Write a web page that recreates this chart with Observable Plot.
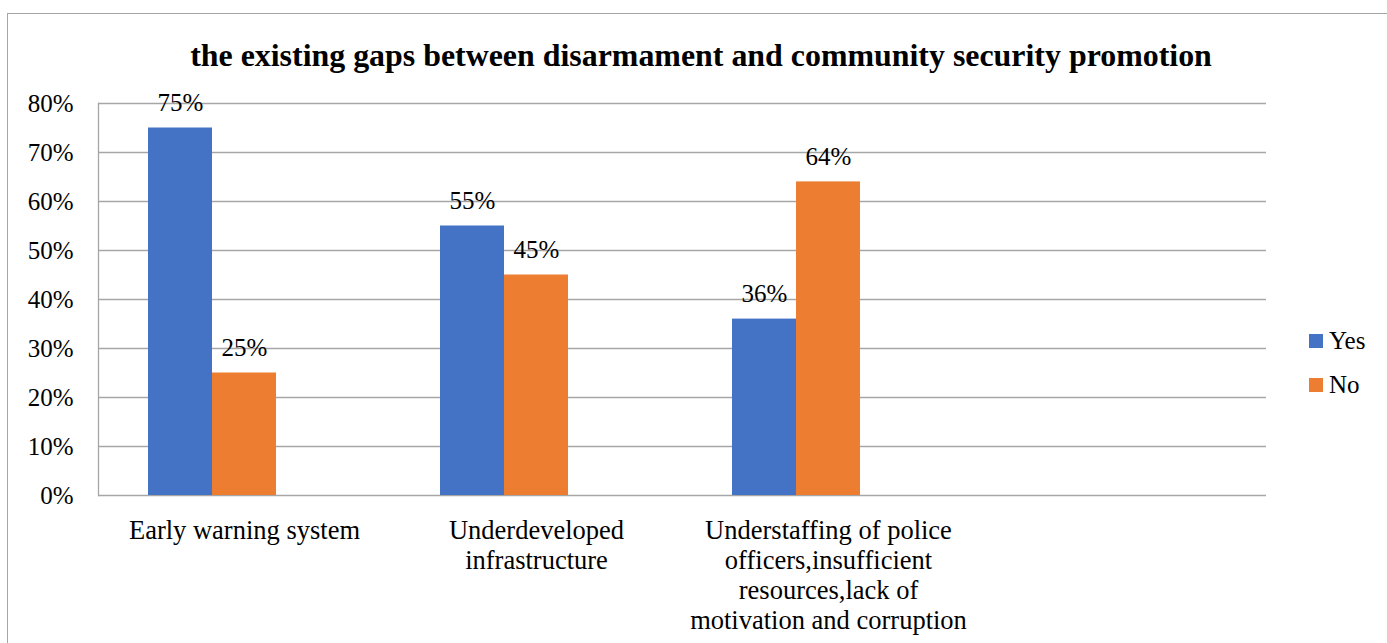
<!DOCTYPE html>
<html>
<head>
<meta charset="utf-8">
<script src="https://cdn.jsdelivr.net/npm/d3@7"></script>
<script src="https://cdn.jsdelivr.net/npm/@observablehq/plot@0.6"></script>
<style>
  html, body { margin: 0; padding: 0; background: #fff; }
  body { font-family: "Liberation Serif", "Times New Roman", serif; }
  #wrap { position: relative; width: 1387px; height: 643px; overflow: hidden; background: #fff; }
  #border { position: absolute; left: 7px; top: 13px; width: 1500px; height: 800px;
            border-left: 1.5px solid #a6a6a6; border-top: 1.5px solid #a6a6a6; box-sizing: border-box; }
  #chart { position: absolute; left: 0; top: 0; }
  #chart svg, #chart svg text { font-family: "Liberation Serif", "Times New Roman", serif !important; font-variant: normal !important; }
  #title { position: absolute; left: 0; width: 1402px; top: 36px; text-align: center;
           font-weight: bold; font-size: 29px; line-height: 40px; color: #000; white-space: nowrap; }
  #legend { position: absolute; left: 1309px; top: 319px; font-size: 25px; color: #000; }
  .item { display: flex; align-items: center; height: 44px; }
  .sw { width: 14px; height: 14px; margin-right: 6px; }
</style>
</head>
<body>
<div id="wrap">
  <div id="border"></div>
  <div id="chart"></div>
  <div id="title"></div>
  <div id="legend"></div>
</div>
<script>
// ---- data ----
const titleText = "the existing gaps between disarmament and community security promotion";
const categories = ["Early warning system", "Underdeveloped infrastructure",
  "Understaffing of police officers,insufficient resources,lack of motivation and corruption", ""];
const categoryLabels = ["Early warning system", "Underdeveloped\ninfrastructure",
  "Understaffing of police\nofficers,insufficient\nresources,lack of\nmotivation and corruption", ""];
const seriesNames = ["Yes", "No"];
const seriesSlots = ["Yes", "No", ""];   // third (empty) series slot as in the original chart
const seriesColors = ["#4472C4", "#ED7D31"];
const yesValues = [0.75, 0.55, 0.36];
const noValues = [0.25, 0.45, 0.64];
const yTicks = [0, 0.1, 0.2, 0.3, 0.4, 0.5, 0.6, 0.7, 0.8];

// ---- build tables ----
const rows = [];
yesValues.forEach((v, i) => rows.push({category: categories[i], series: "Yes", value: v}));
noValues.forEach((v, i) => rows.push({category: categories[i], series: "No", value: v}));
const gridRows = [];
categories.forEach(c => yTicks.forEach(t => gridRows.push({category: c, tick: t})));
const labelOf = new Map(categories.map((c, i) => [c, categoryLabels[i]]));

// title: fit measured width
const titleEl = document.getElementById("title");
titleEl.textContent = titleText;
(function fitTitle() {
  const c = document.createElement("canvas").getContext("2d");
  c.font = 'bold 100px "Liberation Serif"';
  const w = c.measureText(titleText).width;
  titleEl.style.fontSize = (100 * 1022 / w).toFixed(2) + "px";
})();

const pct = d3.format(".0%");
const fs = 25;

const chart = Plot.plot({
  width: 1387,
  height: 643,
  marginLeft: 96,
  marginRight: 120,
  marginTop: 103,
  marginBottom: 148,
  style: {fontFamily: "Liberation Serif, serif", color: "#000", background: "transparent"},
  fx: {domain: categories, padding: 0, axis: null},
  x: {domain: seriesSlots, paddingInner: 0, paddingOuter: 0.75, axis: null},
  y: {domain: [0, 0.8], axis: null},
  color: {domain: seriesNames, range: seriesColors},
  marks: [
    Plot.ruleY(gridRows, {fx: "category", y: "tick", stroke: "#a6a6a6", strokeWidth: 1.3}),
    Plot.frame({anchor: "left", facetAnchor: "left", stroke: "#a6a6a6", strokeWidth: 1.3}),
    Plot.axisY(yTicks, {anchor: "left", tickSize: 0, tickPadding: 25, fontSize: fs, tickFormat: pct, label: null}),
    Plot.barY(rows, {fx: "category", x: "series", y: "value", fill: "series"}),
    Plot.text(rows, {fx: "category", x: "series", y: "value", text: d => pct(d.value),
      fontSize: fs, lineAnchor: "middle", dy: -25, fill: "#000"}),
    Plot.axisFx({anchor: "bottom", tickSize: 0, tickPadding: 22, fontSize: 26.5, lineHeight: 1.13,
      tickFormat: d => labelOf.get(d), label: null})
  ]
});
document.getElementById("chart").appendChild(chart);

// legend
const legend = d3.select("#legend");
seriesNames.forEach((s, i) => {
  const it = legend.append("div").attr("class", "item");
  it.append("div").attr("class", "sw").style("background", seriesColors[i]);
  it.append("span").text(s);
});
</script>
</body>
</html>
